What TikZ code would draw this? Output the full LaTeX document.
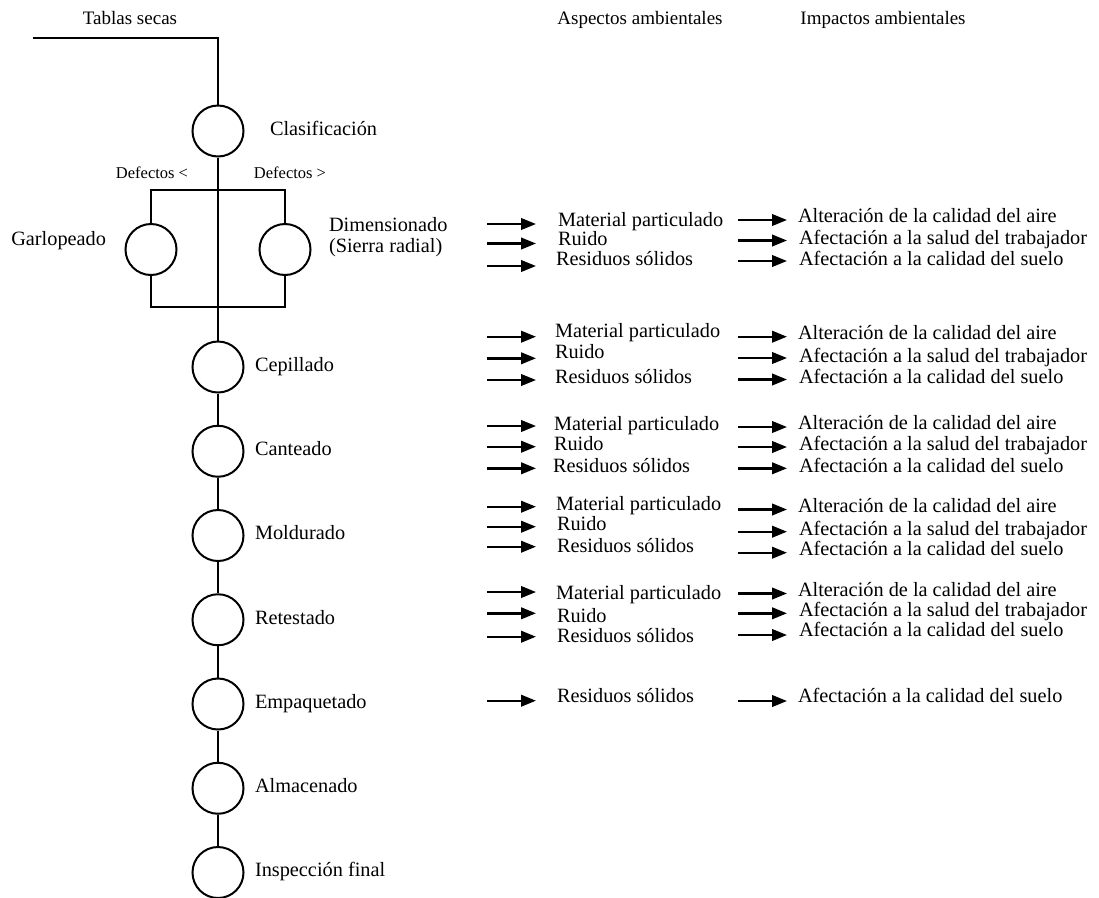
\documentclass[tikz,border=0pt]{standalone}
\usepackage{fontspec}
\setmainfont{Liberation Serif}
\usetikzlibrary{arrows.meta}
\begin{document}
\begin{tikzpicture}[x=1pt,y=-1pt,
  line width=2pt,
  stage/.style={draw, circle, minimum size=51pt, inner sep=0pt, line width=2pt},
  lbl/.style={inner sep=0pt, font=\fontsize{20.3}{21}\selectfont, text height=12.5pt, text depth=4pt},
  head/.style={inner sep=0pt, font=\fontsize{19}{21}\selectfont, text height=13.5pt, text depth=4.3pt},
  small/.style={inner sep=0pt, font=\fontsize{16.5}{18}\selectfont, text height=11.5pt, text depth=3.8pt},
  flow/.style={line width=2.4pt, -{Triangle[length=15pt,width=11.5pt]}},
]
\useasboundingbox (0,0) rectangle (1099,897);

% column headings
\node[head] (hin)  at (130,20) {Tablas secas};
\node[head] (hasp) at (640,20) {Aspectos ambientales};
\node[head] (himp) at (883,20) {Impactos ambientales};

% input line and classification
\node[stage] (clas) at (218,131) {};
\node[lbl, anchor=west] (clas-l) at (269,131) {Clasificación};
\coordinate (in) at (33,38);
\draw (in) -| (clas.north);

% parallel branch: planing / cutting
\node[stage] (garl) at (151,249.5) {};
\node[stage] (dim)  at (285,249.5) {};
\node[lbl, anchor=east] (garl-l) at (107,241) {Garlopeado};
\node[lbl, anchor=west, align=left, font=\fontsize{20.3}{20.5}\selectfont] (dim-l) at (328,248)
  {Dimensionado\\(Sierra radial)};
\node[small] (def-lt) at (152,175) {Defectos <};
\node[small] (def-gt) at (290,175) {Defectos >};
\coordinate (splitT) at (218,190);
\coordinate (splitB) at (218,307);
\draw (garl.north) |- (splitT) -| (dim.north);
\draw (garl.south) |- (splitB) -| (dim.south);

% main line of stages
\foreach \n/\t [count=\i from 0] in {cep/Cepillado, cant/Canteado, mold/Moldurado,
    rete/Retestado, emp/Empaquetado, alm/Almacenado, insp/Inspección final}{
  \node[stage] (\n) at (218,367+84.25*\i) {};
  \node[lbl, anchor=west] (\n-l) at (254,367+84.25*\i) {\t};
}
\draw (clas) -- (cep);
\draw (cep) -- (cant);
\draw (cant) -- (mold);
\draw (mold) -- (rete);
\draw (rete) -- (emp);
\draw (emp) -- (alm);
\draw (alm) -- (insp);

% environmental aspects and impacts
\foreach \la/\ya/\xa/\asp/\rb/\yb/\xb/\imp [count=\k] in {
  224/222/557/Material particulado/220/218.5/797/Alteración de la calidad del aire,
  243.5/241/557/Ruido/240.5/240/798/Afectación a la salud del trabajador,
  266/261.5/555/Residuos sólidos/261/261/798/Afectación a la calidad del suelo,
  336.7/333.5/554/Material particulado/336.7/335.7/797/Alteración de la calidad del aire,
  358.3/354.5/554/Ruido/358/358/798/Afectación a la salud del trabajador,
  380/379/554/Residuos sólidos/379.5/379/798/Afectación a la calidad del suelo,
  426/426.5/553/Material particulado/427/425/797/Alteración de la calidad del aire,
  446.7/446.5/553/Ruido/447/446.7/798/Afectación a la salud del trabajador,
  468.3/468/552/Residuos sólidos/468.3/468/798/Afectación a la calidad del suelo,
  506.7/506/555/Material particulado/509.5/508/797/Alteración de la calidad del aire,
  526.7/526/556/Ruido/531.7/531.7/798/Afectación a la salud del trabajador,
  546.7/548/556/Residuos sólidos/552.7/551.7/798/Afectación a la calidad del suelo,
  592/595/555/Material particulado/593.5/592.2/797/Alteración de la calidad del aire,
  613.3/618/556/Ruido/613.3/612.3/798/Afectación a la salud del trabajador,
  636.7/638/556/Residuos sólidos/635/632.5/798/Afectación a la calidad del suelo,
  700.7/698/556/Residuos sólidos/701/698/797/Afectación a la calidad del suelo}{
  \coordinate (las\k) at (487,\la);
  \coordinate (lae\k) at (536,\la);
  \coordinate (ras\k) at (738,\rb);
  \coordinate (rae\k) at (787,\rb);
  \node[lbl, anchor=west] (asp\k) at (\xa,\ya) {\asp};
  \node[lbl, anchor=west] (imp\k) at (\xb,\yb) {\imp};
  \draw[flow] (las\k) -- (lae\k);
  \draw[flow] (ras\k) -- (rae\k);
}
\end{tikzpicture}
\end{document}
